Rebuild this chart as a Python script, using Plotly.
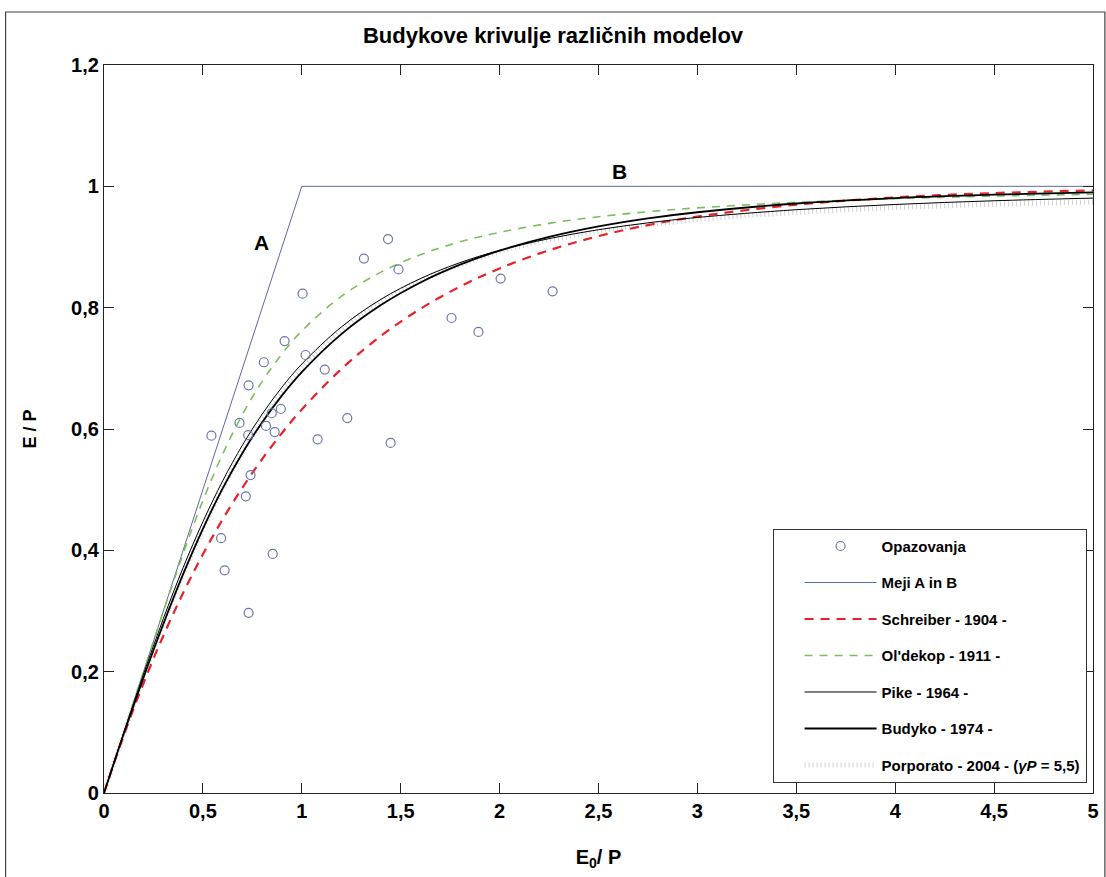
import plotly.graph_objects as go

# Observations (E0/P, E/P)
obs_x = [0.543, 1.436, 1.314, 1.489, 1.004, 2.005, 2.268, 1.757, 1.893, 0.913,
         1.019, 0.808, 1.116, 0.731, 0.894, 0.848, 1.230, 0.685, 0.819, 0.863,
         0.729, 1.080, 1.449, 0.741, 0.717, 0.592, 0.853, 0.610, 0.731]
obs_y = [0.589, 0.913, 0.881, 0.863, 0.823, 0.848, 0.827, 0.783, 0.760, 0.745,
         0.722, 0.710, 0.698, 0.672, 0.633, 0.626, 0.618, 0.610, 0.605, 0.595,
         0.590, 0.583, 0.577, 0.524, 0.489, 0.420, 0.394, 0.367, 0.297]

# Limits A (energy) and B (water)
lim_x = [0, 1, 5]
lim_y = [0, 1, 1]

# Model curves sampled at E0/P values
phi = [0, 0.1, 0.2, 0.3, 0.4, 0.5, 0.6, 0.7, 0.8, 0.9, 1.0, 1.2, 1.4, 1.6, 1.8,
       2.0, 2.25, 2.5, 2.75, 3.0, 3.5, 4.0, 4.5, 5.0]
schreiber = [0, 0.0952, 0.1813, 0.2592, 0.3297, 0.3935, 0.4512, 0.5034, 0.5507,
             0.5934, 0.6321, 0.6988, 0.7534, 0.7981, 0.8347, 0.8647, 0.8946,
             0.9179, 0.9361, 0.9502, 0.9698, 0.9817, 0.9889, 0.9933]
oldekop = [0, 0.1000, 0.2000, 0.2992, 0.3946, 0.4820, 0.5587, 0.6240, 0.6786,
           0.7240, 0.7616, 0.8187, 0.8586, 0.8873, 0.9085, 0.9242, 0.9390,
           0.9499, 0.9582, 0.9645, 0.9736, 0.9797, 0.9839, 0.9869]
pike = [0, 0.0995, 0.1961, 0.2873, 0.3714, 0.4472, 0.5145, 0.5735, 0.6247,
        0.6690, 0.7071, 0.7682, 0.8137, 0.8480, 0.8742, 0.8944, 0.9138, 0.9285,
        0.9398, 0.9487, 0.9615, 0.9701, 0.9762, 0.9806]
budyko = [0, 0.0976, 0.1904, 0.2785, 0.3607, 0.4355, 0.5021, 0.5605, 0.6113,
          0.6555, 0.6938, 0.7564, 0.8043, 0.8415, 0.8708, 0.8940, 0.9165,
          0.9338, 0.9471, 0.9573, 0.9717, 0.9807, 0.9864, 0.9901]

phi_p = [0, 0.1, 0.2, 0.4, 0.6, 0.8, 1.0, 1.25, 1.5, 2.0, 2.5, 3.0, 3.5, 4.0, 4.5, 5.0]
porporato = [0, 0.0980, 0.1915, 0.3608, 0.5021, 0.6138, 0.6990, 0.7759, 0.8289,
             0.8923, 0.9257, 0.9449, 0.9569, 0.9648, 0.9704, 0.9744]

names = ["Opazovanja", "Meji A in B", "Schreiber - 1904 -", "Ol'dekop - 1911 -",
         "Pike - 1964 -", "Budyko - 1974 -",
         "Porporato - 2004 - (<i>γP</i> = 5,5)"]

FONT = "Liberation Sans, Arial, sans-serif"

fig = go.Figure()
fig.add_trace(go.Scatter(x=phi_p, y=porporato, mode="lines", name=names[6],
                         line=dict(color="rgba(200,200,200,0.85)", width=5, dash="1px,3px"),
                         line_shape="spline", legendrank=7, legendgroup="g7"))
fig.add_trace(go.Scatter(x=lim_x, y=lim_y, mode="lines", name=names[1],
                         line=dict(color="#5b6aa8", width=1),
                         legendrank=2, legendgroup="g2"))
fig.add_trace(go.Scatter(x=phi, y=oldekop, mode="lines", name=names[3],
                         line=dict(color="#7cbf5a", width=1.6, dash="8px,7px"),
                         line_shape="spline", legendrank=4, legendgroup="g4"))
fig.add_trace(go.Scatter(x=phi, y=schreiber, mode="lines", name=names[2],
                         line=dict(color="#e8212b", width=2.2, dash="9px,7px"),
                         line_shape="spline", legendrank=3, legendgroup="g3"))
fig.add_trace(go.Scatter(x=phi, y=pike, mode="lines", name=names[4],
                         line=dict(color="black", width=1),
                         line_shape="spline", legendrank=5, legendgroup="g5"))
fig.add_trace(go.Scatter(x=phi, y=budyko, mode="lines", name=names[5],
                         line=dict(color="black", width=1.8),
                         line_shape="spline", legendrank=6, legendgroup="g6"))
fig.add_trace(go.Scatter(x=obs_x, y=obs_y, mode="markers", name=names[0],
                         marker=dict(symbol="circle-open", size=9,
                                     color="#6a78b0", line=dict(width=1.2)),
                         legendrank=1, legendgroup="g1"))

fig.add_annotation(x=0.794, y=0.908, text="A", showarrow=False,
                   font=dict(size=21, color="black", family=FONT, weight="bold"))
fig.add_annotation(x=2.608, y=1.025, text="B", showarrow=False,
                   font=dict(size=21, color="black", family=FONT, weight="bold"))

# outer frame
fig.add_shape(type="rect", xref="paper", yref="paper",
              x0=-0.0995, x1=1.012, y0=-0.125, y1=1.0728,
              line=dict(color="#444444", width=1.2), layer="below")

axis_common = dict(showgrid=False, zeroline=False, showline=True,
                   linecolor="#222222", linewidth=1.2, mirror="ticks",
                   ticks="inside", ticklen=10, tickwidth=1, tickcolor="#222222",
                   tickfont=dict(size=20, family=FONT, color="black", weight="bold"))

fig.update_layout(
    width=1106, height=877,
    margin=dict(l=104, r=7, t=65, b=84),
    paper_bgcolor="white", plot_bgcolor="white",
    separators=", ",
    font=dict(family=FONT, color="black"),
    title=dict(text="Budykove krivulje različnih modelov",
               x=0.5, xref="container", xanchor="center",
               y=1 - 35 / 877, yref="container", yanchor="middle",
               font=dict(size=22, family=FONT, color="black", weight="bold")),
    xaxis=dict(range=[0, 5], tickvals=[0, 0.5, 1, 1.5, 2, 2.5, 3, 3.5, 4, 4.5, 5],
               title=dict(text="E<sub>0</sub>/ P", standoff=28,
                          font=dict(size=20, family=FONT, weight="bold")),
               **axis_common),
    yaxis=dict(range=[0, 1.2], tickvals=[0, 0.2, 0.4, 0.6, 0.8, 1, 1.2],
               title=dict(text="E / P", standoff=29,
                          font=dict(size=18, family=FONT, weight="bold")),
               **axis_common),
    legend=dict(x=0.676, y=0.363, xanchor="left", yanchor="top",
                bgcolor="white", bordercolor="#333333", borderwidth=1,
                font=dict(size=15, family=FONT, color="black", weight="bold"),
                tracegroupgap=14, indentation=26, itemwidth=72,
                traceorder="grouped"),
    showlegend=True,
)

fig.write_html("out.html")
